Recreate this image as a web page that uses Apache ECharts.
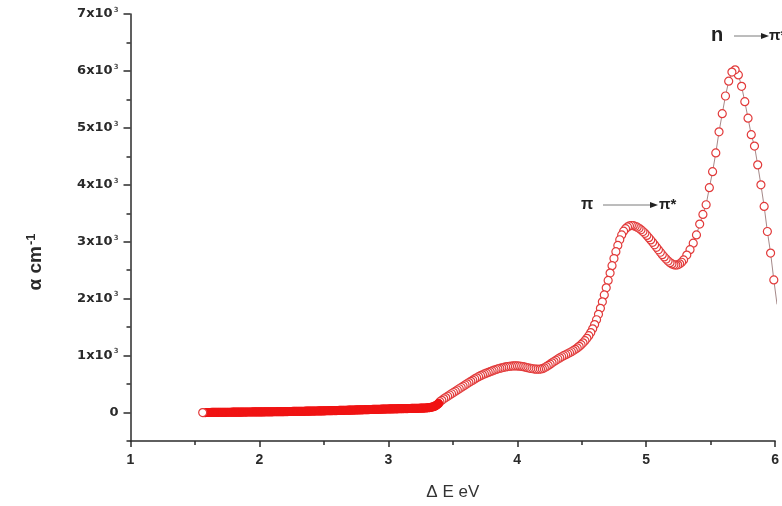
<!DOCTYPE html>
<html>
<head>
<meta charset="utf-8">
<script src="https://cdn.jsdelivr.net/npm/echarts@6/dist/echarts.min.js"></script>
<style>
  html, body { margin: 0; padding: 0; background: #fff; }
  #chart { width: 782px; height: 506px; }
</style>
</head>
<body>
<div id="chart"></div>
<script>
// Absorption coefficient alpha (cm^-1) versus photon energy (eV)
// Low-energy tail: nearly flat absorption
const lowE = [
  1.56,1.57,1.58,1.59,1.60,1.61,1.62,1.63,1.64,1.65,
  1.66,1.67,1.68,1.69,1.70,1.71,1.72,1.73,1.74,1.75,
  1.76,1.77,1.78,1.79,1.80,1.81,1.82,1.83,1.84,1.85,
  1.86,1.87,1.88,1.89,1.90,1.91,1.92,1.93,1.94,1.95,
  1.96,1.97,1.98,1.99,2.00,2.01,2.02,2.03,2.04,2.05,
  2.06,2.07,2.08,2.09,2.10,2.11,2.12,2.13,2.14,2.15,
  2.16,2.17,2.18,2.19,2.20,2.21,2.22,2.23,2.24,2.25,
  2.26,2.27,2.28,2.29,2.30,2.31,2.32,2.33,2.34,2.35,
  2.36,2.37,2.38,2.39,2.40,2.41,2.42,2.43,2.44,2.45,
  2.46,2.47,2.48,2.49,2.50,2.51,2.52,2.53,2.54,2.55,
  2.56,2.57,2.58,2.59,2.60,2.61,2.62,2.63,2.64,2.65,
  2.66,2.67,2.68,2.69,2.70,2.71,2.72,2.73,2.74,2.75,
  2.76,2.77,2.78,2.79,2.80,2.81,2.82,2.83,2.84,2.85,
  2.86,2.87,2.88,2.89,2.90,2.91,2.92,2.93,2.94,2.95,
  2.96,2.97,2.98,2.99,3.00,3.01,3.02,3.03,3.04,3.05,
  3.06,3.07,3.08,3.09,3.10,3.11,3.12,3.13,3.14,3.15,
  3.16,3.17,3.18,3.19,3.20,3.21,3.22,3.23,3.24,3.25,
  3.26,3.27,3.28,3.29,3.30,3.31,3.32,3.33,3.34,3.35,
  3.36,3.37,3.38,3.39
];
const lowA = [
  0,0,0,1,1,1,1,2,2,2,
  2,2,3,3,3,3,4,4,4,5,
  5,5,5,6,6,6,6,7,7,7,
  7,8,8,8,8,9,9,9,9,10,
  10,10,10,10,11,11,11,11,12,12,
  12,12,13,13,13,14,14,14,15,15,
  15,16,16,16,17,17,17,18,18,18,
  19,19,19,20,20,20,21,21,22,22,
  23,23,24,24,25,25,26,26,27,27,
  28,28,29,29,30,30,31,31,32,32,
  33,34,34,35,35,36,37,37,38,38,
  39,40,40,41,42,42,43,44,44,45,
  46,46,47,48,48,49,50,51,51,52,
  53,53,54,55,55,56,57,58,58,59,
  60,60,61,62,62,63,64,64,65,65,
  66,66,67,67,68,68,69,69,70,70,
  71,71,72,72,73,73,74,74,75,76,
  77,78,79,80,82,84,87,91,96,103,
  112,124,140,160
];

// Absorption edge and the weak band near 4 eV
const midE = [
  3.400,3.415,3.430,3.445,3.460,3.475,3.490,3.505,3.520,3.535,
  3.550,3.565,3.580,3.595,3.610,3.625,3.640,3.655,3.670,3.685,
  3.700,3.715,3.730,3.745,3.760,3.775,3.790,3.805,3.820,3.835,
  3.850,3.865,3.880,3.895,3.910,3.925,3.940,3.955,3.970,3.985,
  4.000,4.015,4.030,4.045,4.060,4.075,4.090,4.105,4.120,4.135,
  4.150,4.165,4.180,4.195,4.210,4.225,4.240,4.255,4.270,4.285,
  4.300,4.315,4.330,4.345,4.360,4.375,4.390
];
const midA = [
  190,215,240,263,286,308,330,352,374,396,
  418,440,462,484,505,527,548,569,590,610,
  630,647,663,678,692,705,718,731,744,756,
  767,777,786,794,801,807,812,816,818,819,
  818,815,811,805,798,790,782,775,769,764,
  761,760,763,771,785,805,827,850,873,895,
  918,940,960,980,998,1015,1032
];

// pi -> pi* band
const highE = [
  4.405,4.420,4.435,4.450,4.465,4.480,4.495,4.510,4.525,4.540,
  4.555,4.570,4.585,4.600,4.615,4.630,4.645,4.660,4.675,4.690,
  4.705,4.720,4.735,4.750,4.765,4.780,4.795,4.810,4.825,4.840,
  4.855,4.870,4.885,4.900,4.915,4.930,4.945,4.960,4.975,4.990,
  5.005,5.020,5.035,5.050,5.065,5.080,5.095,5.110,5.125,5.140,
  5.155,5.170,5.185,5.200,5.215,5.230,5.245,5.260,5.275
];
const highA = [
  1050,1068,1088,1110,1135,1162,1192,1225,1262,1303,
  1350,1405,1470,1545,1630,1725,1830,1945,2065,2190,
  2320,2450,2580,2705,2825,2935,3035,3120,3185,3230,
  3260,3278,3285,3282,3272,3256,3235,3210,3180,3147,
  3110,3072,3032,2990,2946,2902,2858,2815,2773,2733,
  2696,2662,2633,2610,2595,2590,2595,2612,2640
];

// n -> pi* band
const peakE = [
  5.290,5.315,5.340,5.365,5.390,5.415,5.440,5.465,5.490,5.515,
  5.540,5.565,5.590,5.615,5.640,5.665,5.690,5.715,5.740,5.765,
  5.790,5.815,5.840,5.865,5.890,5.915,5.940,5.965,5.990,6.015
];
const peakA = [
  2680,2765,2860,2975,3120,3310,3480,3650,3950,4230,
  4560,4930,5250,5560,5820,5980,6020,5930,5730,5460,
  5170,4880,4680,4350,4000,3620,3180,2800,2330,1900
];

const yMajorTicks = [0, 1000, 2000, 3000, 4000, 5000, 6000, 7000];
const xTicks = [1, 2, 3, 4, 5, 6];

const ringColor = '#e23a3a';
const bandColor = '#f01414';

// Densely measured tail: overlapping markers merge into a solid band,
// only the lowest-energy marker keeps its open face.
const lowPoints = lowE.map((e, i) => ({
  value: [e, lowA[i]],
  itemStyle: i === 0 ? undefined : { color: bandColor, borderColor: bandColor }
}));
const restE = midE.concat(highE, peakE);
const restA = midA.concat(highA, peakA);
const restPoints = restE.map((e, i) => ({ value: [e, restA[i]] }));
// drawn from high to low energy, so the lowest-energy marker ends on top
const points = lowPoints.concat(restPoints).reverse();

const chart = echarts.init(document.getElementById('chart'), null, { renderer: 'canvas' });

const axisColor = '#2b2b2b';
const labelFont = 'Liberation Sans';

chart.setOption({
  animation: false,
  backgroundColor: '#ffffff',
  grid: { left: 130.5, right: 2.5, top: 14, bottom: 64, containLabel: false },
  xAxis: {
    type: 'value',
    min: xTicks[0],
    max: xTicks[xTicks.length - 1],
    interval: 1,
    name: 'Δ E eV',
    nameLocation: 'middle',
    nameGap: 43,
    nameTextStyle: { fontFamily: labelFont, fontSize: 17, color: '#333' },
    axisLine: { show: true, onZero: false, lineStyle: { color: axisColor, width: 1.5 } },
    axisTick: { show: true, inside: false, length: 6, lineStyle: { color: axisColor, width: 1.5 } },
    minorTick: { show: true, splitNumber: 2, length: 4, lineStyle: { color: axisColor, width: 1.5 } },
    splitLine: { show: false },
    minorSplitLine: { show: false },
    axisLabel: { margin: 12, fontFamily: labelFont, fontWeight: 'bold', fontSize: 14, color: '#2a2a2a' }
  },
  yAxis: [
    {
      type: 'value',
      position: 'left',
      min: -500,
      max: 7000,
      interval: 500,
      axisLine: { show: true, onZero: false, lineStyle: { color: axisColor, width: 1.5 } },
      axisTick: { show: true, inside: false, length: 4, lineStyle: { color: axisColor, width: 1.5 } },
      splitLine: { show: false },
      axisLabel: {
        margin: 12,
        customValues: yMajorTicks,
        formatter: function (v) {
          if (v % 1000 !== 0 || v < 0) return '';
          return v === 0 ? '{a|0}' : '{a|' + (v / 1000) + 'x10}{s|3}';
        },
        rich: {
          a: { fontFamily: 'DejaVu Sans', fontWeight: 'bold', fontSize: 13, color: '#2a2a2a', lineHeight: 15 },
          s: { fontFamily: 'DejaVu Sans', fontWeight: 'bold', fontSize: 7, color: '#555', verticalAlign: 'top', lineHeight: 15, padding: [0, 0, 7, 1] }
        }
      }
    },
    {
      type: 'value',
      position: 'left',
      offset: 0,
      min: -500,
      max: 7000,
      interval: 500,
      axisLine: { show: false },
      axisLabel: { show: false },
      splitLine: { show: false },
      axisTick: { show: true, inside: false, length: 7, customValues: yMajorTicks, lineStyle: { color: axisColor, width: 1.5 } }
    }
  ],
  graphic: [
    {
      type: 'text', x: 36, y: 262, rotation: Math.PI / 2,
      style: {
        text: '{a|α cm}{s|-1}',
        align: 'center', verticalAlign: 'middle',
        rich: {
          a: { fontFamily: labelFont, fontWeight: 'bold', fontSize: 19, fill: '#2a2a2a', lineHeight: 22 },
          s: { fontFamily: labelFont, fontWeight: 'bold', fontSize: 13, fill: '#2a2a2a', verticalAlign: 'top', lineHeight: 22, padding: [0, 0, 9, 1] }
        }
      }
    },
    // pi -> pi* annotation
    { type: 'text', x: 587, y: 205, style: { text: 'π', font: 'bold 16px "Liberation Sans"', fill: '#222', align: 'center', verticalAlign: 'middle' } },
    { type: 'line', shape: { x1: 603, y1: 205, x2: 651, y2: 205 }, style: { stroke: '#7a7a7a', lineWidth: 1 } },
    { type: 'polygon', shape: { points: [[650, 202], [658, 205], [650, 208]] }, style: { fill: '#222' } },
    { type: 'text', x: 659, y: 205, style: { text: 'π*', font: 'bold 15px "Liberation Sans"', fill: '#222', align: 'left', verticalAlign: 'middle' } },
    // n -> pi* annotation
    { type: 'text', x: 717, y: 35, style: { text: 'n', font: 'bold 20px "Liberation Sans"', fill: '#222', align: 'center', verticalAlign: 'middle' } },
    { type: 'line', shape: { x1: 734, y1: 36, x2: 762, y2: 36 }, style: { stroke: '#7a7a7a', lineWidth: 1 } },
    { type: 'polygon', shape: { points: [[761, 33], [769, 36], [761, 39]] }, style: { fill: '#222' } },
    { type: 'text', x: 769, y: 36, style: { text: 'π*', font: 'bold 15px "Liberation Sans"', fill: '#222', align: 'left', verticalAlign: 'middle' } }
  ],
  series: [
    {
      type: 'line',
      data: points,
      xAxisIndex: 0,
      yAxisIndex: 0,
      clip: true,
      showSymbol: true,
      showAllSymbol: true,
      symbol: 'circle',
      symbolSize: 8,
      itemStyle: { color: '#ffffff', borderColor: ringColor, borderWidth: 1.2 },
      lineStyle: { color: '#8e6a6a', width: 0.8 },
      emphasis: { disabled: true },
      silent: true
    }
  ]
});
</script>
</body>
</html>
